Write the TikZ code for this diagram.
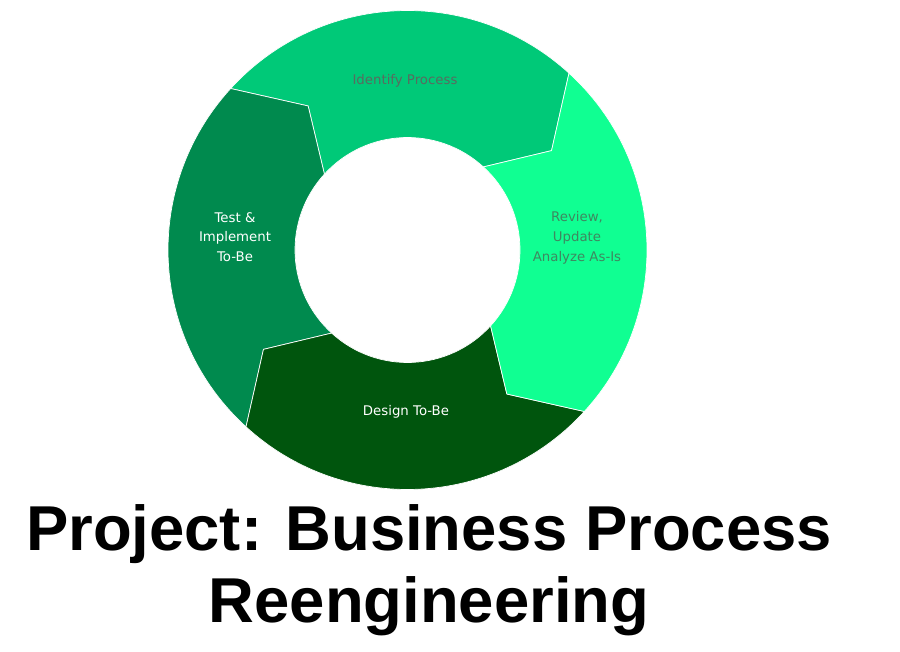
\documentclass[tikz,border=0pt]{standalone}
\usepackage{fontspec}
\setmainfont{Liberation Sans}
\newfontfamily\lblfont{DejaVu Sans}
\usetikzlibrary{calc}
\definecolor{cIdent}{RGB}{0,201,120}
\definecolor{cReview}{RGB}{16,255,146}
\definecolor{cTest}{RGB}{0,138,78}
\definecolor{cDesign}{RGB}{0,85,13}
\definecolor{tIdent}{RGB}{88,108,96}
\definecolor{tReview}{RGB}{62,136,96}
\def\Ro{239.5pt}
\def\Ri{112.5pt}
\def\Rk{175pt}
\tikzset{
  seg/.style={fill=#1, draw=white, line width=0.7pt, line join=miter},
  lbl/.style={font=\lblfont\fontsize{13.3}{19.8}\selectfont, align=center, inner sep=0pt, anchor=base},
  ttl/.style={font=\fontsize{63.4}{72}\selectfont\bfseries, align=center, inner sep=0pt, anchor=base}
}
\newcommand\ringseg[3]{%
  \path[seg=#1] (#2:\Ro) arc[start angle=#2, end angle=#3, radius=\Ro]
    -- ({#3-13}:\Rk) -- (#3:\Ri)
    arc[start angle=#3, end angle=#2, radius=\Ri]
    -- ({#2-13}:\Rk) -- cycle;
}
\begin{document}
\begin{tikzpicture}[x=1pt,y=1pt]
\useasboundingbox (0,0) rectangle (900,-652);
\fill[white] (0,0) rectangle (900,-652);
\begin{scope}[shift={(407.5,-250)}]
  \ringseg{cIdent}{47.6}{137.6}
  \ringseg{cTest}{137.6}{227.6}
  \ringseg{cDesign}{227.6}{317.6}
  \ringseg{cReview}{-42.4}{47.6}
\end{scope}
\node[lbl, text=tIdent] (ident) at (405,-84.5) {Identify Process};
\node[lbl, text=tReview] (review) at (577,-261.5) {Review,\\Update\\Analyze As-Is};
\node[lbl, text=white] (test) at (235,-261.8) {Test \&\\Implement\\To-Be};
\node[lbl, text=white] (design) at (406,-415) {Design To-Be};
\node[ttl] (title) at (429,-622) {Project: Business Process\\Reengineering};
\end{tikzpicture}
\end{document}
